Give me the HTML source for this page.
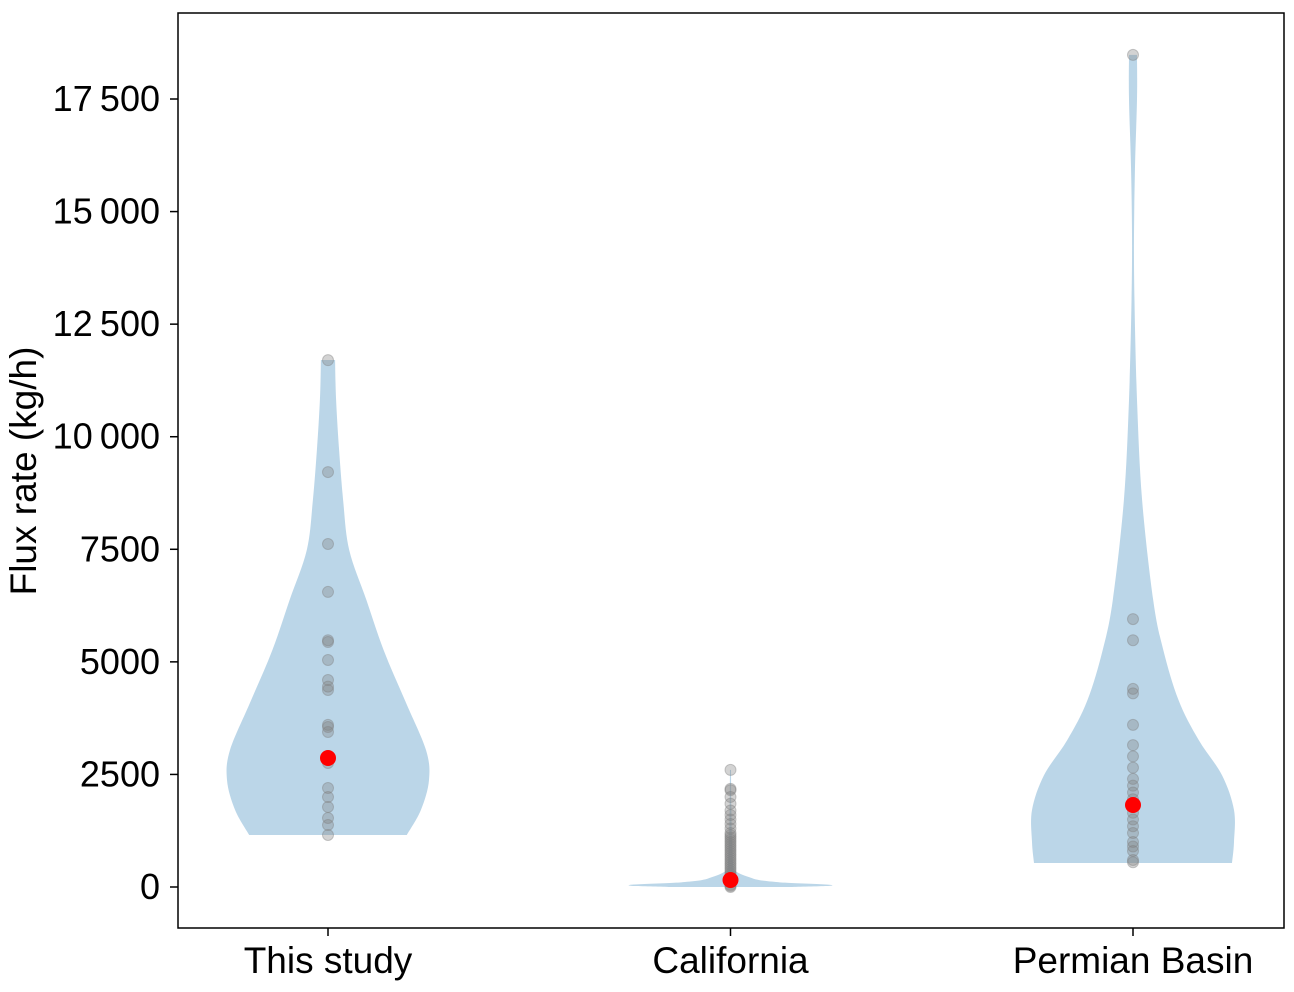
<!DOCTYPE html>
<html><head><meta charset="utf-8"><style>
body{margin:0;background:#fff}
svg{display:block;font-family:"Liberation Sans",Arial,sans-serif}
</style></head><body>
<svg id="chart" width="1294" height="992" viewBox="0 0 1294 992">
<rect x="178" y="13" width="1106" height="915" fill="none" stroke="#000" stroke-width="1.5"/>
<g id="violins"></g>
<g id="points"></g>
<g id="yaxis"></g>
<g id="xaxis"></g>
<text x="36" y="471" transform="rotate(-90 36 471)" text-anchor="middle" font-size="37">Flux rate (kg/h)</text>
</svg>
<script>
const categories=["This study","California","Permian Basin"];
const yTicks=[0,2500,5000,7500,10000,12500,15000,17500];
const yTickLabels=["0","2500","5000","7500","10\u2009000","12\u2009500","15\u2009000","17\u2009500"];
const violinValues0=[1155,1710,2376,3042,4153,5263,6374,7484,8595,9705,10815,11704];
const violinWidths0=[0.78,0.92,1.0,0.97,0.76,0.55,0.38,0.21,0.15,0.11,0.08,0.07];
const violinValues1=[0,22,45,67,89,111,155,222,289,355,422,1000,1800,2600];
const violinWidths1=[0.6,0.95,1.0,0.85,0.6,0.45,0.28,0.18,0.1,0.05,0.03,0.015,0.008,0.005];
const violinValues2=[533,1000,1710,2487,3264,4153,5263,6374,8595,10815,13000,14500,16000,17500,18480];
const violinWidths2=[0.98,1.0,1.0,0.88,0.65,0.45,0.3,0.2,0.09,0.04,0.015,0.01,0.02,0.04,0.04];
const points0=[11700,9215,7617,6553,5441,5480,5041,4597,4375,4450,3553,3442,3600,2754,2199,1999,1777,1532,1377,1155];
const points1=[2600,2180,2150,2000,1850,1700,1600,1500,1400,1300,1200,1150,1100,1050,1000,950,900,850,800,750,700,650,600,550,500,450,400,350,300,250,200,150,100,50,25,0];
const points2=[18480,5950,5480,4400,4300,3600,3150,2900,2650,2400,2250,2100,1950,1800,1650,1500,1350,1200,1000,900,800,600,550];
const means=[2865,155,1821];
const NS="http://www.w3.org/2000/svg";
const xPos=i=>328+i*402.5;
const yPos=v=>887-v/2500*112.57;
const maxHW=101;
function mk(tag,attrs,parent){const e=document.createElementNS(NS,tag);for(const k in attrs)e.setAttribute(k,attrs[k]);parent.appendChild(e);return e;}
function smooth(P){
  let d='M'+P[0][0].toFixed(1)+','+P[0][1].toFixed(1);
  for(let i=0;i<P.length-1;i++){
    const p0=P[Math.max(0,i-1)],p1=P[i],p2=P[i+1],p3=P[Math.min(P.length-1,i+2)];
    const c1=[p1[0]+(p2[0]-p0[0])/6,p1[1]+(p2[1]-p0[1])/6];
    const c2=[p2[0]-(p3[0]-p1[0])/6,p2[1]-(p3[1]-p1[1])/6];
    d+='C'+c1.map(v=>v.toFixed(1)).join(',')+' '+c2.map(v=>v.toFixed(1)).join(',')+' '+p2[0].toFixed(1)+','+p2[1].toFixed(1);
  }
  return d;
}
const vg=document.getElementById('violins'),pg=document.getElementById('points');
const vv=[[violinValues0,violinWidths0],[violinValues1,violinWidths1],[violinValues2,violinWidths2]];
const pts=[points0,points1,points2];
vv.forEach((d,i)=>{
  const cx=xPos(i);const [vals,ws]=d;
  const R=vals.map((v,k)=>[cx+ws[k]*maxHW,yPos(v)]);
  const L=vals.map((v,k)=>[cx-ws[k]*maxHW,yPos(v)]).reverse();
  const path=smooth(R)+'L'+smooth(L).slice(1)+'Z';
  const p=mk('path',{d:path,fill:'#1f77b4','fill-opacity':'0.3'},vg);
  
  
  pts[i].forEach(v=>{
    const c=mk('circle',{cx:cx,cy:yPos(v),r:5.5,fill:'#808080','fill-opacity':'0.35',stroke:'#808080','stroke-opacity':'0.4'},pg);
    
    
  });
});
means.forEach((v,i)=>{
  const c=mk('circle',{cx:xPos(i),cy:yPos(v),r:8,fill:'#ff0000'},pg);
  
  
});
const ya=document.getElementById('yaxis');
yTicks.forEach((t,k)=>{
  const y=yPos(t);
  const l=mk('line',{x1:170,x2:178,y1:y,y2:y,stroke:'#000','stroke-width':1.5},ya);
  
  
  const tx=mk('text',{x:160,y:y+12,'text-anchor':'end','font-size':36},ya);
  tx.textContent=yTickLabels[k];
  
  
});
const xa=document.getElementById('xaxis');
categories.forEach((c,i)=>{
  const x=xPos(i);
  const l=mk('line',{x1:x,x2:x,y1:928,y2:936,stroke:'#000','stroke-width':1.5},xa);
  
  
  const tx=mk('text',{x:x,y:973,'text-anchor':'middle','font-size':37},xa);
  tx.textContent=c;
  
  
});
</script>
</body></html>
